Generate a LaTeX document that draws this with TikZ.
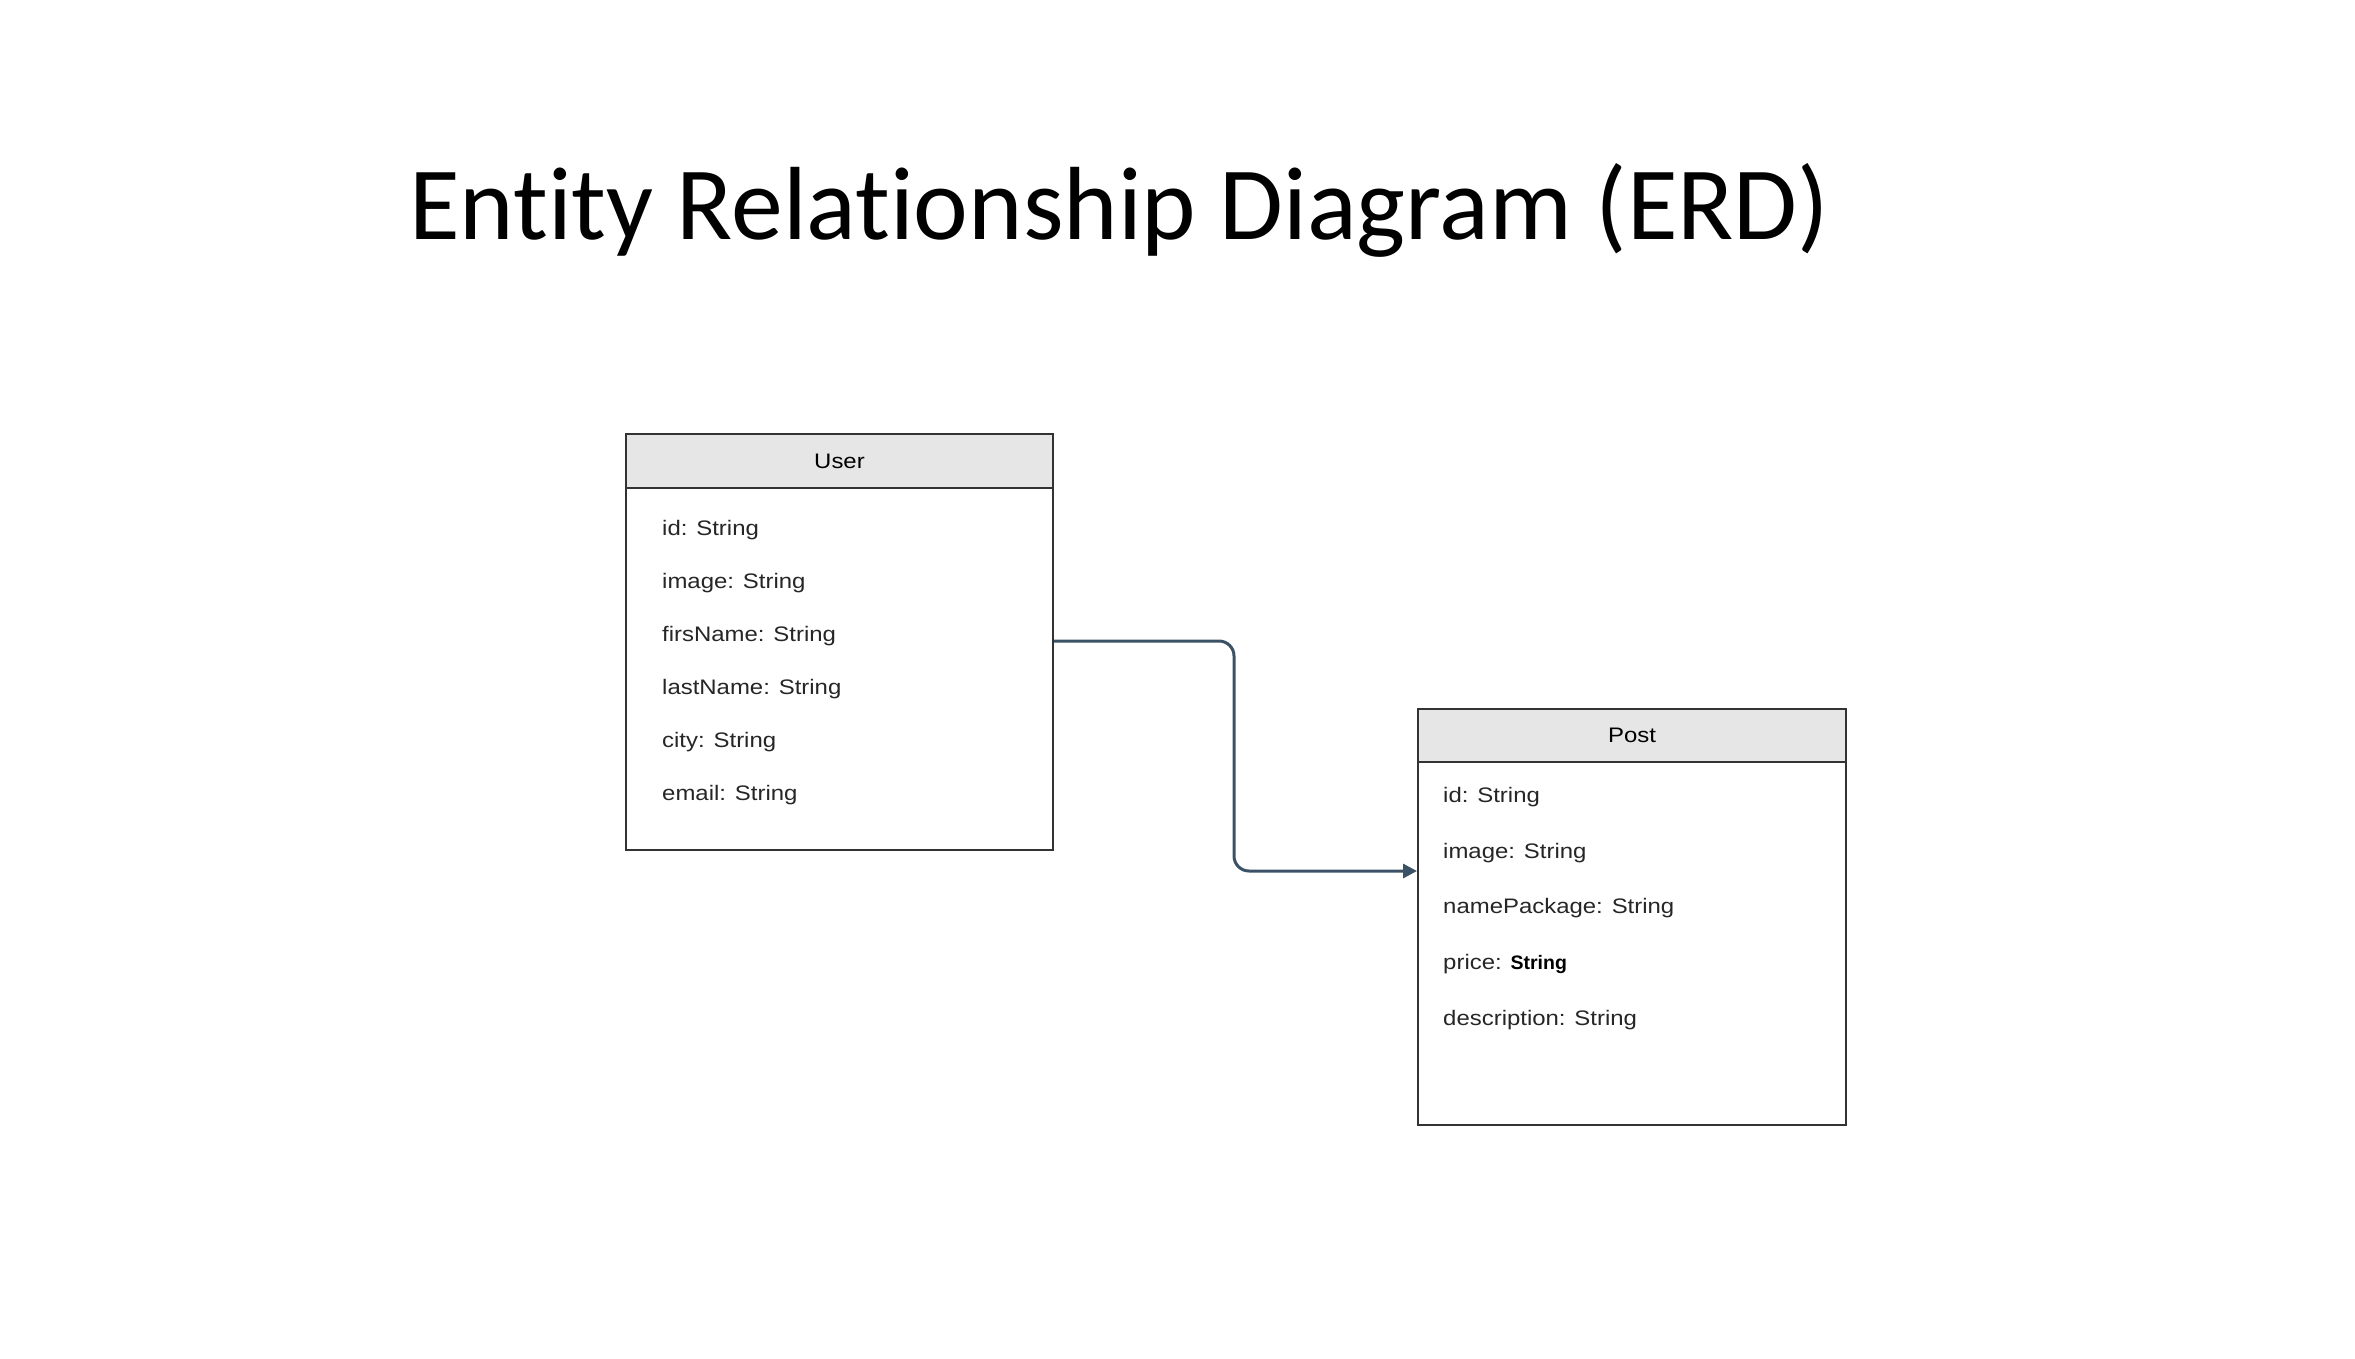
\documentclass[tikz,border=0pt]{standalone}
\usepackage{fontspec}
\setmainfont{Liberation Sans}
\newfontfamily\titlefont{Carlito}[Ligatures=NoCommon, FakeStretch=0.997]
\newfontfamily\rowfont{Liberation Sans}[FakeStretch=1.14]
\newfontfamily\boldrowfont{Liberation Sans Bold}
\usetikzlibrary{arrows.meta,calc}
\definecolor{boxline}{HTML}{333333}
\definecolor{headfill}{HTML}{E6E6E6}
\definecolor{connclr}{HTML}{3B5166}
\tikzset{
  boxhead/.style={draw=boxline, line width=2pt, fill=headfill, rectangle, inner sep=0pt, anchor=north west},
  boxbody/.style={draw=boxline, line width=2pt, fill=white, rectangle, inner sep=0pt, anchor=north west},
  headtxt/.style={font=\rowfont\fontsize{21}{26}\selectfont, text=black},
  rowtxt/.style={font=\rowfont\fontsize{21}{26}\selectfont, text=black!85, anchor=base west, inner sep=0pt},
  conn/.style={draw=connclr, line width=3pt, rounded corners=15pt, -{Triangle[length=14pt,width=14pt]}},
}
\begin{document}
\begin{tikzpicture}[x=1pt,y=-1pt]
\useasboundingbox (0,0) rectangle (2355,1358);
% title
\node[anchor=base west, inner sep=0pt, font=\titlefont\fontsize{104}{120}\selectfont] (title) at (409,239) {Entity Relationship Diagram (ERD)};
% User entity
\node[boxbody, minimum width=427pt, minimum height=416pt] (ubody) at (625,433) {};
\node[boxhead, minimum width=427pt, minimum height=54pt] (uhead) at (625,433) {};
\node[headtxt] (utitle) at (uhead.center) {User};
\node[rowtxt] (urow1) at (662,535) {id: String};
\node[rowtxt] (urow2) at (662,588) {image: String};
\node[rowtxt] (urow3) at (662,641) {firsName: String};
\node[rowtxt] (urow4) at (662,694) {lastName: String};
\node[rowtxt] (urow5) at (662,747) {city: String};
\node[rowtxt] (urow6) at (662,800) {email: String};
% Post entity
\node[boxbody, minimum width=428pt, minimum height=416pt] (pbody) at (1417,708) {};
\node[boxhead, minimum width=428pt, minimum height=53pt] (phead) at (1417,708) {};
\node[headtxt] (ptitle) at (phead.center) {Post};
\node[rowtxt] (prow1) at (1443,802) {id: String};
\node[rowtxt] (prow2) at (1443,858) {image: String};
\node[rowtxt] (prow3) at (1443,913) {namePackage: String};
\node[rowtxt] (prow4) at (1443,969) {price: {\boldrowfont\fontsize{19.5}{24}\selectfont\color{black}String}};
\node[rowtxt] (prow5) at (1443,1025) {description: String};
% connector
\coordinate (bend) at (1234,750);
\coordinate (tgt) at (1417,871);
\draw[conn] (urow3.base -| ubody.east) -| (bend) |- (tgt);
\end{tikzpicture}
\end{document}
